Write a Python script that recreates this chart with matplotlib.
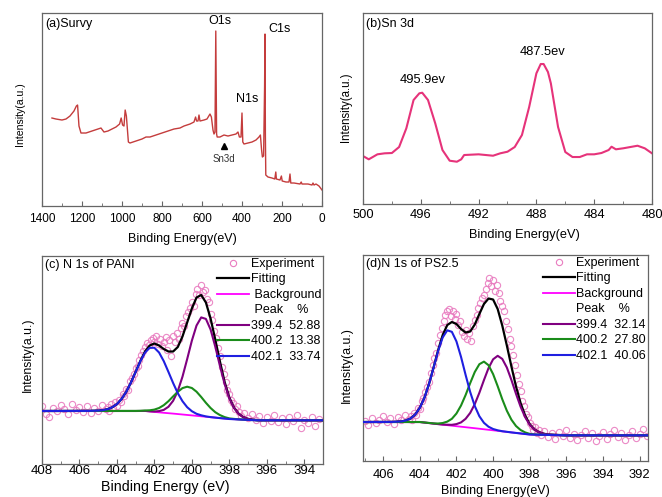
"""XPS figure: survey, Sn 3d and N 1s fits for PANI and PS2.5."""

import matplotlib

matplotlib.use("Agg")
import matplotlib.pyplot as plt
from matplotlib.lines import Line2D
from matplotlib.ticker import MultipleLocator

plt.rcParams["font.family"] = ["Liberation Sans", "DejaVu Sans"]

# ---------------------------------------------------------------- (a) survey
survey_ev = [1350, 1330, 1300, 1280, 1260, 1240, 1228, 1222, 1215, 1205, 1180, 1150,
             1120, 1105, 1090, 1070, 1050, 1030, 1012, 1004, 997, 990, 984, 978, 968,
             960, 930, 900, 880, 860, 830, 800, 770, 740, 710, 690, 660, 640, 632, 627,
             620, 615, 610, 590, 575, 560, 553, 545, 540, 535, 531, 527, 524, 510, 500,
             490, 470, 450, 430, 420, 413, 405, 400, 396, 390, 370, 350, 330, 315, 308,
             302, 298, 292, 287, 285, 283, 281, 270, 250, 236, 231, 228, 210, 203, 199,
             180, 165, 160, 156, 140, 110, 104, 100, 70, 50, 45, 40, 30, 15, 0]
survey_int = [88, 87, 86, 87, 90, 95, 100, 101, 80, 73, 73, 75,
              77, 78, 74, 75, 77, 79, 82, 88, 81, 80, 96, 90, 64,
              63, 65, 67, 69, 69, 71, 73, 75, 77, 78, 80, 82, 84, 89, 85,
              85, 91, 85, 86, 87, 92, 89, 76, 72, 74, 175, 72, 69, 69, 70,
              71, 70, 71, 72, 74, 69, 69, 93, 64, 62, 63, 64, 66, 69, 71,
              56, 49, 50, 120, 172, 70, 31, 29, 28, 27, 34, 27, 26, 30, 25,
              24, 24, 32, 23, 23, 22, 24, 22, 22, 21, 23, 21, 22, 20, 16]

# ---------------------------------------------------------------- (b) Sn 3d
sn_ev = [500.0, 499.6, 499.0, 498.5, 498.0, 497.5, 497.0, 496.5, 496.1, 495.9, 495.5,
         495.0, 494.5, 494.0, 493.5, 493.2, 493.0, 492.0, 491.0, 490.5, 490.0, 489.5,
         489.0, 488.5, 488.0, 487.7, 487.5, 487.2, 487.0, 486.5, 486.0, 485.5, 485.0,
         484.5, 484.0, 483.5, 483.0, 482.8, 482.5, 482.0, 481.5, 481.0, 480.5, 480.0]
sn_int = [48, 44.7, 49.7, 50.7, 51, 57, 75.7, 104, 110.7, 111.3, 104,
          80.7, 54, 43.3, 42.3, 44.7, 49, 49.7, 48.3, 50.7, 52.3, 57,
          69, 97, 130.7, 140, 140, 132, 120.7, 77, 52, 47, 47,
          49.7, 49.7, 51, 54, 57.3, 54.7, 55.7, 57, 58.3, 55.7, 50.7]

# ---------------------------------------------------------------- (c) N 1s of PANI
pani_exp_ev = [408.0, 407.8, 407.6, 407.4, 407.2, 407.0, 406.8, 406.6, 406.4, 406.2,
               406.0, 405.8, 405.6, 405.4, 405.2, 405.0, 404.8, 404.6,
               404.5, 404.4, 404.3, 404.2, 404.1, 404.0, 403.9, 403.8, 403.7, 403.6,
               403.5, 403.4, 403.3, 403.2, 403.1, 403.0, 402.9, 402.8, 402.7, 402.6,
               402.5, 402.4, 402.3, 402.2, 402.1, 402.0, 401.9, 401.8, 401.7, 401.6,
               401.5, 401.4, 401.3, 401.2, 401.1, 401.0, 400.9, 400.8, 400.7, 400.6,
               400.5, 400.4, 400.3, 400.2, 400.1, 400.0, 399.9, 399.8, 399.7, 399.6,
               399.5, 399.4, 399.3, 399.2, 399.1, 399.0, 398.9, 398.8, 398.7, 398.6,
               398.5, 398.4, 398.3, 398.2, 398.1, 398.0, 397.9, 397.8, 397.7, 397.6,
               397.5, 397.4, 397.2, 397.0, 396.8, 396.6, 396.4, 396.2, 396.0, 395.8,
               395.6, 395.4, 395.2, 395.0, 394.8, 394.6, 394.4, 394.2, 394.0, 393.8,
               393.6, 393.4, 393.2]
pani_exp_int = [58, 50, 47, 56, 53, 59, 55, 50, 60, 54,
                57, 52, 58, 51, 56, 53, 59, 55,
                57, 53, 60, 56, 62, 58, 64, 62, 70, 68,
                75, 74, 83, 86, 90, 96, 98, 104, 109, 113,
                117, 121, 119, 124, 126, 122, 128, 120, 125, 118,
                122, 127, 114, 124, 108, 128, 122, 131, 125, 136,
                141, 138, 148, 152, 156, 162, 158, 170, 175, 169,
                179, 172, 174, 165, 162, 150, 144, 133, 126, 116,
                108, 97, 90, 82, 74, 70, 64, 61, 55, 58,
                52, 48, 51, 46, 50, 44, 48, 41, 47, 43,
                49, 42, 46, 40, 47, 43, 49, 36, 44, 41,
                47, 38, 45]

pani_fit_ev = [408.0, 405.5, 405.0, 404.75, 404.5, 404.25, 404.0, 403.75, 403.5, 403.25,
               403.0, 402.75, 402.5, 402.25, 402.0, 401.75, 401.5, 401.25, 401.0,
               400.75, 400.5, 400.25, 400.0, 399.75, 399.5, 399.25, 399.0, 398.75,
               398.5, 398.25, 398.0, 397.75, 397.5, 397.25, 397.0, 396.75, 396.5, 393.0]
pani_fit_int = [53.0, 53.1, 53.4, 53.8, 54.8, 56.7, 59.9, 65.0, 72.2, 81.5,
                92.2, 103.0, 112.5, 118.5, 120.5, 118.5, 115.0, 112.5, 112.5,
                117.0, 127.5, 141.5, 155.5, 166.5, 169.0, 161.5, 145.5, 124.5,
                102.5, 82.0, 66.5, 56.4, 50.2, 46.8, 45.1, 44.3, 43.8, 43.7]
pani_bg_ev = [408.0, 402.5, 402.0, 401.5, 401.0, 400.5, 400.0, 399.5, 399.0, 398.5,
              398.0, 397.5, 397.0, 396.5, 393.0]
pani_bg_int = [53.0, 53.0, 52.1, 51.2, 50.4, 49.5, 48.6, 47.7, 46.8, 45.9,
               45.0, 44.6, 44.1, 43.7, 43.7]
pani_p1_ev = [408.0, 403.0, 402.5, 402.25, 402.0, 401.75, 401.5, 401.25, 401.0, 400.75,
              400.5, 400.25, 400.0, 399.75, 399.5, 399.25, 399.0, 398.75, 398.5,
              398.25, 398.0, 397.75, 397.5, 397.25, 397.0, 396.75, 396.5, 393.0]
pani_p1_int = [53.0, 53.0, 53.1, 52.7, 52.5, 52.9, 54.1, 57.2, 63.2, 73.0,
               87.3, 104.9, 123.3, 138.5, 146.6, 145.1, 134.5, 117.4, 98.0,
               80.0, 65.7, 56.1, 50.1, 46.8, 45.1, 44.3, 43.8, 43.7]
pani_p2_ev = [408.0, 403.0, 402.75, 402.5, 402.25, 402.0, 401.75, 401.5, 401.25, 401.0,
              400.75, 400.5, 400.25, 400.0, 399.75, 399.5, 399.25, 399.0, 398.75,
              398.5, 398.25, 398.0, 397.75, 397.5, 397.0, 396.5, 393.0]
pani_p2_int = [53.0, 53.1, 53.2, 53.5, 53.7, 54.4, 56.0, 58.8, 62.8, 67.6,
               72.2, 75.9, 77.3, 76.0, 72.3, 67.0, 61.2, 56.0, 51.8,
               48.9, 46.9, 45.6, 45.1, 44.7, 44.1, 43.7, 43.7]
pani_p3_ev = [408.0, 405.5, 405.0, 404.75, 404.5, 404.25, 404.0, 403.75, 403.5, 403.25,
              403.0, 402.75, 402.5, 402.25, 402.0, 401.75, 401.5, 401.25, 401.0,
              400.75, 400.5, 400.25, 400.0, 399.75, 399.5, 399.25, 399.0, 398.5,
              398.0, 397.0, 396.5, 393.0]
pani_p3_int = [53.0, 53.1, 53.4, 53.8, 54.8, 56.7, 59.9, 65.0, 72.2, 81.5,
               92.1, 102.7, 111.4, 116.2, 116.2, 111.5, 102.9, 92.1, 81.0,
               70.8, 62.8, 56.8, 52.8, 50.2, 48.7, 47.6, 46.9, 45.9,
               45.0, 44.1, 43.7, 43.7]
pani_peaks = ["399.4  52.88", "400.2  13.38", "402.1  33.74"]

# ---------------------------------------------------------------- (d) N 1s of PS2.5
ps_exp_ev = [407.0, 406.8, 406.6, 406.4, 406.2, 406.0, 405.8, 405.6, 405.4, 405.2,
             405.0, 404.8, 404.6,
             404.5, 404.4, 404.3, 404.2, 404.1, 404.0, 403.9, 403.8, 403.7, 403.6,
             403.5, 403.4, 403.3, 403.2, 403.1, 403.0, 402.9, 402.8, 402.7, 402.6,
             402.5, 402.4, 402.3, 402.2, 402.1, 402.0, 401.9, 401.8, 401.7, 401.6,
             401.5, 401.4, 401.3, 401.2, 401.1, 401.0, 400.9, 400.8, 400.7, 400.6,
             400.5, 400.4, 400.3, 400.2, 400.1, 400.0, 399.9, 399.8, 399.7, 399.6,
             399.5, 399.4, 399.3, 399.2, 399.1, 399.0, 398.9, 398.8, 398.7, 398.6,
             398.5, 398.4, 398.3, 398.2, 398.1, 398.0, 397.9, 397.8, 397.7, 397.6,
             397.5, 397.4, 397.2, 397.0, 396.8, 396.6, 396.4, 396.2, 396.0, 395.8,
             395.6, 395.4, 395.2, 395.0, 394.8, 394.6, 394.4, 394.2, 394.0, 393.8,
             393.6, 393.4, 393.2, 393.0, 392.8, 392.6, 392.4, 392.2, 392.0, 391.8,
             391.6]
ps_exp_int = [40, 36, 43, 38, 41, 45, 39, 43, 37, 44,
              41, 46, 42,
              45, 41, 48, 46, 53, 52, 60, 63, 69, 74,
              79, 88, 96, 103, 108, 118, 126, 133, 140, 146,
              150, 152, 145, 150, 142, 147, 136, 140, 129, 125,
              131, 122, 128, 120, 135, 141, 146, 153, 158, 163,
              166, 172, 178, 183, 175, 181, 170, 176, 168, 160,
              155, 150, 140, 132, 122, 115, 106, 96, 86, 77,
              70, 60, 55, 47, 44, 38, 35, 31, 34, 28,
              31, 26, 30, 24, 28, 22, 29, 25, 31, 23,
              27, 21, 26, 30, 23, 28, 20, 25, 29, 22,
              27, 31, 24, 28, 21, 26, 30, 23, 27, 32,
              25]

ps_fit_ev = [407.1, 405.5, 405.0, 404.75, 404.5, 404.25, 404.0, 403.75, 403.5, 403.25,
             403.0, 402.75, 402.5, 402.25, 402.0, 401.75, 401.5, 401.25, 401.0,
             400.75, 400.5, 400.25, 400.0, 399.75, 399.5, 399.25, 399.0, 398.75,
             398.5, 398.25, 398.0, 397.75, 397.5, 397.25, 397.0, 396.0, 391.55]
ps_fit_int = [39.0, 39.1, 39.6, 40.6, 42.6, 46.5, 53.2, 63.1, 76.9, 93.4,
              110.8, 126.0, 136.0, 139.0, 137.0, 132.0, 128.5, 129.5, 136.5,
              147.0, 157.0, 162.5, 161.5, 152.0, 135.5, 115.5, 94.5, 74.5,
              58.0, 45.4, 36.8, 31.7, 28.9, 27.3, 26.5, 25.7, 25.7]
ps_bg_ev = [407.1, 404.0, 403.0, 402.0, 401.0, 400.0, 399.0, 398.0, 397.0, 396.0, 391.55]
ps_bg_int = [39.0, 39.0, 36.9, 34.8, 32.8, 30.7, 28.6, 26.5, 26.1, 25.7, 25.7]
ps_p1_ev = [407.1, 404.0, 403.0, 402.75, 402.5, 402.25, 402.0, 401.75, 401.5, 401.25,
            401.0, 400.75, 400.5, 400.25, 400.0, 399.75, 399.5, 399.25, 399.0,
            398.75, 398.5, 398.25, 398.0, 397.75, 397.5, 397.25, 397.0, 396.5,
            396.0, 391.55]
ps_p1_int = [39.0, 39.0, 36.9, 36.5, 36.3, 36.2, 36.9, 38.6, 42.2, 48.1,
             56.9, 68.2, 80.9, 92.9, 101.7, 105.2, 102.1, 93.5, 81.0,
             67.2, 54.3, 43.8, 36.2, 31.5, 28.8, 27.3, 26.5, 26.0,
             25.7, 25.7]
ps_p2_ev = [407.1, 404.0, 403.5, 403.25, 403.0, 402.75, 402.5, 402.25, 402.0, 401.75,
            401.5, 401.25, 401.0, 400.75, 400.5, 400.25, 400.0, 399.75, 399.5,
            399.25, 399.0, 398.75, 398.5, 398.25, 398.0, 397.75, 397.5, 397.0,
            396.0, 391.55]
ps_p2_int = [39.0, 39.0, 38.1, 37.6, 37.5, 38.0, 39.4, 42.2, 47.5, 55.5,
             66.0, 77.9, 89.0, 96.8, 99.4, 95.8, 86.9, 74.8, 61.8,
             50.3, 41.3, 35.0, 31.0, 28.6, 27.1, 26.6, 26.4, 26.1,
             25.7, 25.7]
ps_p3_ev = [407.1, 405.5, 405.0, 404.75, 404.5, 404.25, 404.0, 403.75, 403.5, 403.25,
            403.0, 402.75, 402.5, 402.25, 402.0, 401.75, 401.5, 401.25, 401.0,
            400.75, 400.5, 400.25, 400.0, 399.75, 399.5, 399.0, 398.0, 397.0,
            396.0, 391.55]
ps_p3_int = [39.0, 39.1, 39.6, 40.6, 42.6, 46.5, 53.2, 63.1, 76.8, 93.2,
             110.0, 123.6, 130.7, 129.2, 119.6, 104.1, 86.1, 69.0, 55.0,
             44.8, 38.2, 34.3, 32.0, 30.7, 29.8, 28.6, 26.5, 26.1,
             25.7, 25.7]
ps_peaks = ["399.4  32.14", "400.2  27.80", "402.1  40.06"]

SPINE = "#666666"
EXP_COLOR = "#e97cc0"
PEAK_COLORS = ["#800080", "#1a8c1a", "#1f1fe0"]


def _style(ax, xlim, ylim, major, minor, tick_fs, tick_pad,
           xlabel, xlabel_fs, xlabel_pad, xlabel_x, ylabel_fs, ylabel_pad, ylabel_y):
    ax.set_xlim(*xlim)
    ax.set_ylim(*ylim)
    ax.xaxis.set_major_locator(MultipleLocator(major))
    ax.xaxis.set_minor_locator(MultipleLocator(minor))
    ax.tick_params(axis="x", which="major", direction="in", length=3.5, width=0.8,
                   labelsize=tick_fs, color=SPINE, pad=tick_pad)
    ax.tick_params(axis="x", which="minor", direction="in", length=2, width=0.6,
                   color=SPINE)
    ax.set_yticks([])
    for sp in ax.spines.values():
        sp.set_color(SPINE)
        sp.set_linewidth(0.9)
    ax.set_xlabel(xlabel, fontsize=xlabel_fs, labelpad=xlabel_pad)
    ax.set_ylabel("Intensity(a.u.)", fontsize=ylabel_fs, labelpad=ylabel_pad)
    # the panels were pasted together, so the labels sit a little off-centre
    ax.xaxis.label.set_x(xlabel_x)
    ax.yaxis.label.set_y(ylabel_y)


def _panel_survey(ax):
    ax.plot(survey_ev, survey_int, color="#c43c3c", lw=1.0)
    _style(ax, (1400, 0), (0, 193), 200, 100, 8.5, 4.8,
           "Binding Energy(eV)", 9, 6.3, 0.5, 7.6, 12.5, 0.477)
    ax.text(0.01, 0.975, "(a)Survy", transform=ax.transAxes, fontsize=9, va="top")
    ax.text(510, 185, "O1s", fontsize=9, ha="center", va="center")
    ax.text(210, 177, "C1s", fontsize=9, ha="center", va="center")
    ax.text(375, 107, "N1s", fontsize=9, ha="center", va="center")
    ax.plot([490], [60], marker="^", color="black", ms=5)
    ax.text(490, 47, "Sn3d", fontsize=7, ha="center", va="center", color="#333333")


def _panel_sn(ax):
    ax.plot(sn_ev, sn_int, color="#e6337a", lw=1.5)
    _style(ax, (500, 480), (0, 191), 4, 2, 9.3, 3.4,
           "Binding Energy(eV)", 9.2, 5.6, 0.56, 8.3, 8, 0.508)
    ax.text(0.01, 0.975, "(b)Sn 3d", transform=ax.transAxes, fontsize=9, va="top")
    ax.text(495.9, 124, "495.9ev", fontsize=9.3, ha="center", va="center")
    ax.text(487.6, 152, "487.5ev", fontsize=9.3, ha="center", va="center")


def _panel_fit(ax, exp, fit, bg, peaks, names, title, xlim, ylim, style_args):
    ax.plot(exp[0], exp[1], ls="none", marker="o", ms=4.5, mfc="none", mec=EXP_COLOR,
            mew=0.8, alpha=0.9, zorder=1)
    ax.plot(fit[0], fit[1], color="black", lw=1.6, zorder=2)
    ax.plot(bg[0], bg[1], color="#ff00ff", lw=1.3, zorder=2)
    for (xs, ys), color in zip(peaks, PEAK_COLORS):
        ax.plot(xs, ys, color=color, lw=1.5, zorder=3)
    _style(ax, xlim, ylim, 2, 1, *style_args)
    ax.text(0.01, 0.985, title, transform=ax.transAxes, fontsize=9, va="top")

    handles = [
        Line2D([], [], ls="none", marker="o", ms=4.5, mfc="none", mec=EXP_COLOR, mew=0.8),
        Line2D([], [], color="black", lw=1.6),
        Line2D([], [], color="#ff00ff", lw=1.3),
        Line2D([], [], color="none"),
    ] + [Line2D([], [], color=c, lw=1.5) for c in PEAK_COLORS]
    ax.legend(handles, names, loc="upper right", frameon=False, fontsize=9,
              handlelength=2.6, handletextpad=0.1, labelspacing=0.28,
              borderaxespad=0.1, borderpad=0.05)


def main() -> int:
    fig = plt.figure(figsize=(6.62, 4.97), dpi=100)
    ax_a = fig.add_axes([0.0634, 0.5855, 0.4230, 0.3883])
    ax_b = fig.add_axes([0.5483, 0.5895, 0.4366, 0.3843])
    ax_c = fig.add_axes([0.0634, 0.0664, 0.4245, 0.4185])
    ax_d = fig.add_axes([0.5483, 0.0724, 0.4305, 0.4145])

    _panel_survey(ax_a)
    _panel_sn(ax_b)
    _panel_fit(ax_c, (pani_exp_ev, pani_exp_int), (pani_fit_ev, pani_fit_int),
               (pani_bg_ev, pani_bg_int),
               [(pani_p1_ev, pani_p1_int), (pani_p2_ev, pani_p2_int), (pani_p3_ev, pani_p3_int)],
               ["Experiment", "Fitting", " Background", " Peak    %"] + pani_peaks,
               "(c) N 1s of PANI", (408, 393), (0, 208),
               (9.5, 0.8, "Binding Energy (eV)", 10.3, 2.3, 0.44, 8.8, 6, 0.524))
    _panel_fit(ax_d, (ps_exp_ev, ps_exp_int), (ps_fit_ev, ps_fit_int),
               (ps_bg_ev, ps_bg_int),
               [(ps_p1_ev, ps_p1_int), (ps_p2_ev, ps_p2_int), (ps_p3_ev, ps_p3_int)],
               ["Experiment", "Fitting", "Background", "Peak    %"] + ps_peaks,
               "(d)N 1s of PS2.5", (407.1, 391.55), (0, 206),
               (9.3, 5.7, "Binding Energy(eV)", 9, 3.0, 0.463, 9, 7.5, 0.466))

    fig.savefig("out.png", dpi=100)
    plt.close(fig)
    return 0


if __name__ == "__main__":
    raise SystemExit(main())
